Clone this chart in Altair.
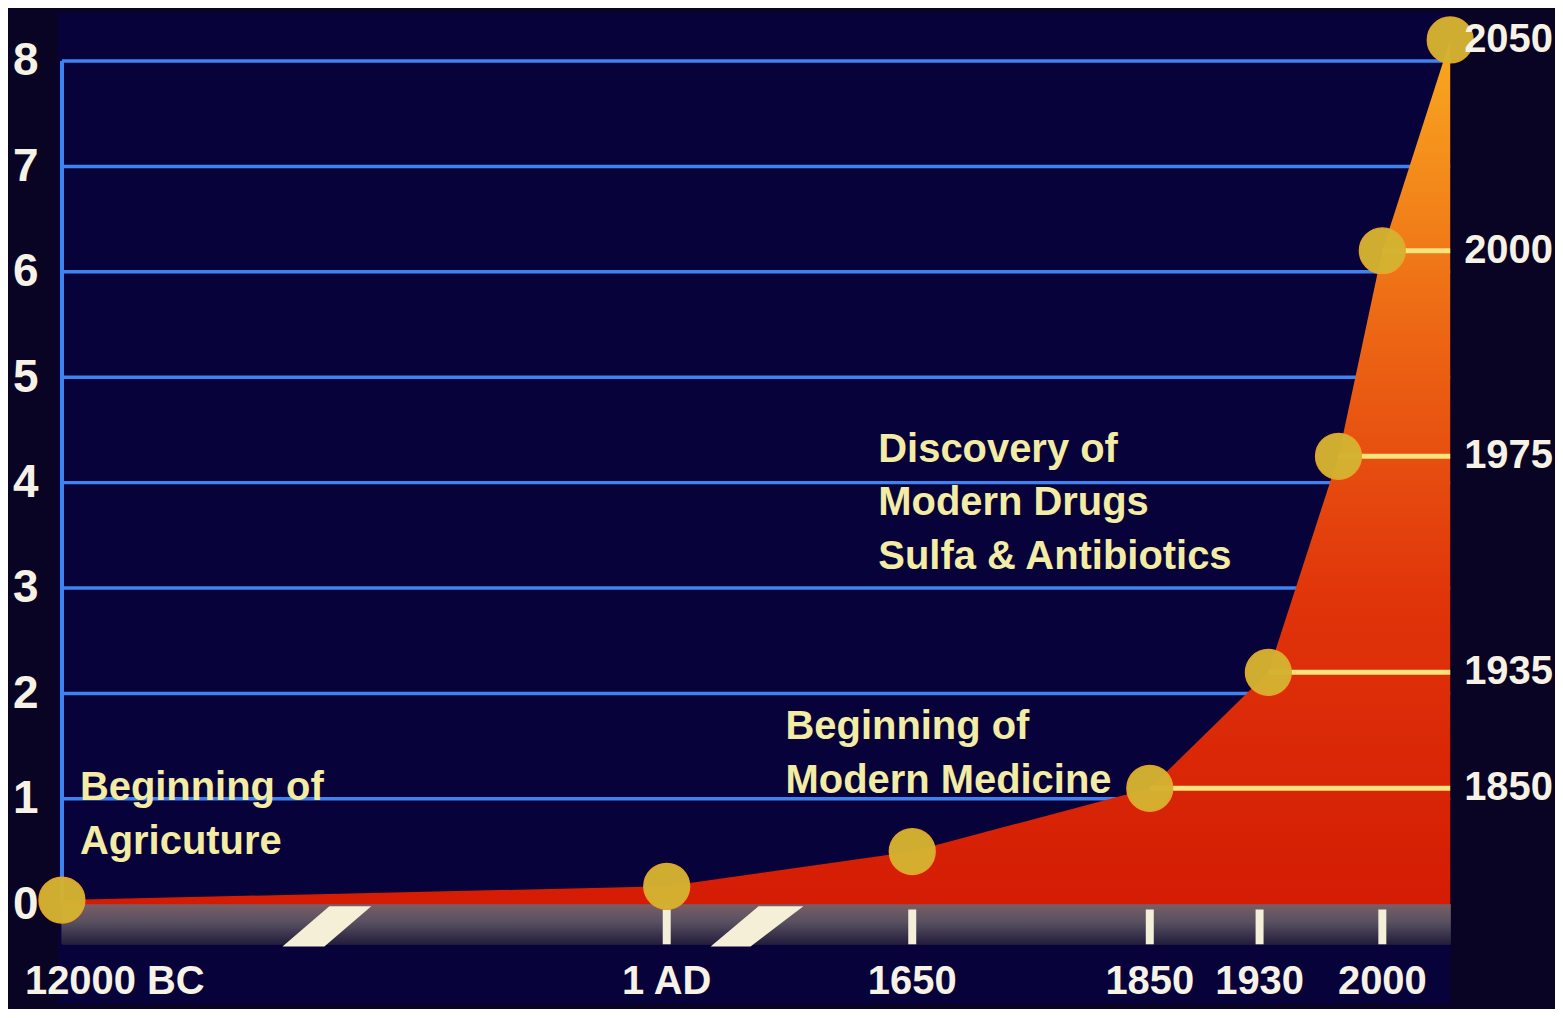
import altair as alt
import pandas as pd

# ---- data ----
years = [-12000, 1, 1650, 1850, 1935, 1975, 2000, 2050]
population = [0.04, 0.17, 0.5, 1.1, 2.2, 4.25, 6.2, 8.2]   # billions

right_years = [1850, 1935, 1975, 2000, 2050]
right_labels = ["1850", "1935", "1975", "2000", "2050"]
right_pop = [1.1, 2.2, 4.25, 6.2, 8.2]

tick_years = [1, 1650, 1850, 1930, 2000]
tick_labels = ["1 AD", "1650", "1850", "1930", "2000"]

grid_values = [1, 2, 3, 4, 5, 6, 7, 8]

# axis-break slashes: one parallelogram per group (bottom edge, top edge)
break_group = [1, 1, 2, 2]
break_level = [-0.40, -0.02, -0.40, -0.02]
break_left = [-7623, -6693, 296, 618]
break_right = [-6792, -5861, 564, 919]

notes = [
    "Beginning of\nAgricuture",
    "Beginning of\nModern Medicine",
    "Discovery of\nModern Drugs\nSulfa & Antibiotics",
]
note_year = [-11643, 799, 1422]
note_pop = [0.985, 1.565, 4.2]

# ---- styling ----
FONT = "Liberation Sans, Arial, sans-serif"
WHITE = "#f6f3e6"
CREAM = "#f3eca4"
BLUE = "#3f84ee"
GOLD = "#d5b331"
LINE_YELLOW = "#f8e37c"

x_scale = alt.Scale(domain=[-12000, 1, 1650, 1850, 1930, 2000, 2050],
                    range=[4, 610, 856, 1094, 1204, 1327, 1395])
y_scale = alt.Scale(domain=[-0.947, 8.456], nice=False, zero=False)
YAX = alt.Axis(values=[0, 1, 2, 3, 4, 5, 6, 7, 8], title=None, domain=False,
               ticks=False, grid=False, labelColor=WHITE, labelFont=FONT,
               labelFontSize=46, labelFontWeight="bold", labelPadding=20)

main = pd.DataFrame({"year": years, "pop": population})
right = pd.DataFrame({"year": right_years, "label": right_labels, "pop": right_pop})
ticks = pd.DataFrame({"year": tick_years, "label": tick_labels})
grid = pd.DataFrame({"v": grid_values})
breaks = pd.DataFrame({"g": break_group, "lvl": break_level,
                       "l": break_left, "r": break_right})
notes_df = pd.DataFrame({"text": notes, "year": note_year, "pop": note_pop})

def X(field, **kw):
    return alt.X(field, type="quantitative", scale=x_scale, axis=None, **kw)

def Y(field, **kw):
    return alt.Y(field, type="quantitative", scale=y_scale, axis=YAX, **kw)

XD = lambda v: alt.XDatum(v, type="quantitative", scale=x_scale, axis=None)
YD = lambda v: alt.YDatum(v, type="quantitative", scale=y_scale, axis=YAX)

floor = alt.Chart(main).mark_rect(
    color={"gradient": "linear", "x1": 0, "x2": 0, "y1": 0, "y2": 1,
           "stops": [{"offset": 0, "color": "#7a5e66"},
                     {"offset": 0.45, "color": "#585060"},
                     {"offset": 1, "color": "#241d3c"}]}
).encode(x=XD(-12000), x2=alt.X2Datum(2050), y=YD(0), y2=alt.Y2Datum(-0.38))

gridlines = alt.Chart(grid).mark_rule(color=BLUE, strokeWidth=3.5).encode(
    x=XD(-12000), x2=alt.X2Datum(2050), y=Y("v"))

axis_line = alt.Chart(main).mark_rule(color=BLUE, strokeWidth=3.5).encode(
    x=XD(-12000), y=YD(0), y2=alt.Y2Datum(8))

area = alt.Chart(main).mark_area(
    color={"gradient": "linear", "x1": 0, "x2": 0, "y1": 1, "y2": 0,
           "stops": [{"offset": 0, "color": "#d41c04"},
                     {"offset": 0.35, "color": "#e0340a"},
                     {"offset": 0.65, "color": "#ec6414"},
                     {"offset": 1, "color": "#f9aa20"}]}
).encode(x=X("year"), y=Y("pop"), y2=alt.Y2Datum(0))

connectors = alt.Chart(right).transform_filter("datum.year < 2050").mark_rule(
    color=LINE_YELLOW, strokeWidth=5).encode(x=X("year"), x2=alt.X2Datum(2050), y=Y("pop"))

points = alt.Chart(main).mark_point(
    filled=True, shape="circle", size=2100, color=GOLD, opacity=0.97,
    stroke="#e9a82a", strokeWidth=1.5).encode(x=X("year"), y=Y("pop"))

right_text = alt.Chart(right).mark_text(
    align="left", baseline="middle", dx=14, font=FONT, fontSize=40,
    fontWeight="bold", color=WHITE).encode(x=XD(2050), y=Y("pop"), text="label:N")

tick_marks = alt.Chart(ticks).mark_rule(color="#f4efd8", strokeWidth=8).encode(
    x=X("year"), y=YD(-0.05), y2=alt.Y2Datum(-0.38))

break_marks = alt.Chart(breaks).mark_area(
    orient="horizontal", color="#f4efd6", opacity=1).encode(
    y=Y("lvl"), x=X("l"), x2="r:Q", detail="g:N")

tick_text = alt.Chart(ticks).mark_text(
    align="center", baseline="middle", font=FONT, fontSize=40,
    fontWeight="bold", color=WHITE).encode(x=X("year"), y=YD(-0.74), text="label:N")

bc_text = alt.Chart(main).transform_filter("datum.year == -12000").mark_text(
    align="left", baseline="middle", dx=-37, font=FONT, fontSize=40,
    fontWeight="bold", color=WHITE, text="12000 BC").encode(x=X("year"), y=YD(-0.74))

note_text = alt.Chart(notes_df).mark_text(
    align="left", baseline="alphabetic", lineBreak="\n", lineHeight=54,
    font=FONT, fontSize=40, fontWeight="bold", color=CREAM).encode(
    x=X("year"), y=Y("pop"), text="text:N")

chart = alt.layer(
    floor, gridlines, axis_line, area, break_marks, tick_marks, connectors,
    points, right_text, tick_text, bc_text, note_text
).properties(
    width=1395, height=993,
    padding={"left": 50, "top": 4, "right": 105, "bottom": 4},
    autosize=alt.AutoSizeParams(type="none"),
).configure(background="#0a0424").configure_view(fill="#07023a", strokeWidth=0)

chart.save("out.html", embed_options={"renderer": "svg", "actions": False})
